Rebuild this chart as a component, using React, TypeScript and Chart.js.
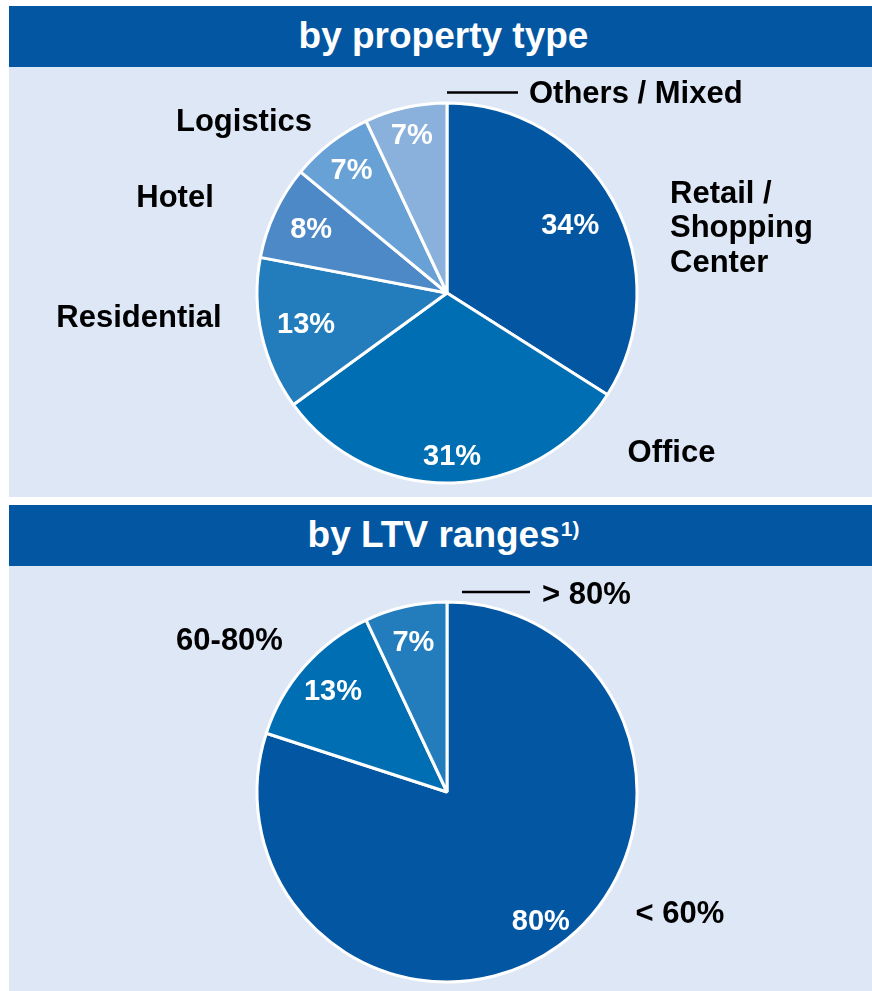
import React, { useEffect, useRef } from "react";
import { Chart, registerables } from "chart.js";

Chart.register(...registerables);

// ---------- data ----------
const propertyLabels = ["Retail / Shopping Center", "Office", "Residential", "Hotel", "Logistics", "Others / Mixed"];
const propertyValues = [34, 31, 13, 8, 7, 7];
const propertyColors = ["#0256A2", "#006EB3", "#237DBD", "#4E89C7", "#68A1D5", "#89B1DC"];

const ltvLabels = ["< 60%", "60-80%", "> 80%"];
const ltvValues = [80, 13, 7];
const ltvColors = ["#0256A2", "#006EB3", "#237DBD"];

// ---------- styling / layout ----------
const FONT = '"Liberation Sans", Arial, Helvetica, sans-serif';
const PANEL_BG = "#DEE7F6";
const HEADER_BG = "#0357A2";

// radial fraction of the radius where each percent label sits
const propertyLabelRadius = [0.74, 0.86, 0.76, 0.79, 0.82, 0.85];
const ltvLabelRadius = [0.84, 0.8, 0.81];

type OuterLabel = { lines: string[]; x: number; y: number; align: CanvasTextAlign; lineGap?: number };
type Leader = { x1: number; x2: number; y: number };

// positions in canvas coordinates
const propertyOuter: OuterLabel[] = [
  { lines: ["Retail /", "Shopping", "Center"], x: 661, y: 126, align: "left", lineGap: 34.5 },
  { lines: ["Office"], x: 662.5, y: 385, align: "center" },
  { lines: ["Residential"], x: 130, y: 250, align: "center" },
  { lines: ["Hotel"], x: 166, y: 130, align: "center" },
  { lines: ["Logistics"], x: 235, y: 54, align: "center" },
  { lines: ["Others / Mixed"], x: 520, y: 26, align: "left" },
];
const propertyLeader: Leader = { x1: 438, x2: 509, y: 25.5 };

const ltvOuter: OuterLabel[] = [
  { lines: ["< 60%"], x: 671, y: 347, align: "center" },
  { lines: ["60-80%"], x: 220.5, y: 74, align: "center" },
  { lines: ["> 80%"], x: 533, y: 28, align: "left" },
];
const ltvLeader: Leader = { x1: 453, x2: 521, y: 26 };

function makeLabelPlugin(values: number[], fractions: number[], outer: OuterLabel[], leader: Leader) {
  return {
    id: "customLabels",
    afterDatasetsDraw(chart: any) {
      const ctx: CanvasRenderingContext2D = chart.ctx;
      const meta = chart.getDatasetMeta(0);
      ctx.save();
      ctx.fillStyle = "#FFFFFF";
      ctx.font = `bold 29px ${FONT}`;
      ctx.textAlign = "center";
      ctx.textBaseline = "middle";
      meta.data.forEach((arc: any, i: number) => {
        const p = arc.getProps(["x", "y", "startAngle", "endAngle", "outerRadius"], true);
        const mid = (p.startAngle + p.endAngle) / 2;
        const r = p.outerRadius * fractions[i];
        ctx.fillText(`${values[i]}%`, p.x + Math.cos(mid) * r, p.y + Math.sin(mid) * r + 1);
      });
      ctx.fillStyle = "#000000";
      ctx.font = `bold 31px ${FONT}`;
      outer.forEach((l) => {
        ctx.textAlign = l.align;
        l.lines.forEach((t, k) => {
          ctx.fillText(t, l.x, l.y + k * (l.lineGap || 0) + 1);
        });
      });
      ctx.strokeStyle = "#000000";
      ctx.lineWidth = 2.5;
      ctx.beginPath();
      ctx.moveTo(leader.x1, leader.y);
      ctx.lineTo(leader.x2, leader.y);
      ctx.stroke();
      ctx.restore();
    },
  };
}

function PieChart(props: {
  labels: string[];
  values: number[];
  colors: string[];
  fractions: number[];
  outer: OuterLabel[];
  leader: Leader;
  width: number;
  height: number;
  padTop: number;
  padLeft: number;
}) {
  const ref = useRef<HTMLCanvasElement | null>(null);
  useEffect(() => {
    if (!ref.current) return;
    const chart = new Chart(ref.current, {
      type: "pie",
      data: {
        labels: props.labels,
        datasets: [
          {
            data: props.values,
            backgroundColor: props.colors,
            borderColor: "#FFFFFF",
            borderWidth: 3,
          },
        ],
      },
      options: {
        responsive: false,
        animation: false,
        devicePixelRatio: 1,
        radius: 190,
        layout: { padding: { top: props.padTop, left: props.padLeft, right: 0, bottom: 0 } },
        plugins: {
          legend: { display: false },
          tooltip: { enabled: false },
          title: { display: false },
        },
      } as any,
      plugins: [makeLabelPlugin(props.values, props.fractions, props.outer, props.leader)],
    });
    return () => chart.destroy();
  }, []);
  return (
    <canvas
      ref={ref}
      width={props.width}
      height={props.height}
      style={{ position: "absolute", left: 0, top: 0, width: props.width, height: props.height }}
    />
  );
}

const headerStyle: React.CSSProperties = {
  position: "absolute",
  left: 9,
  width: 863,
  height: 61,
  background: HEADER_BG,
  color: "#FFFFFF",
  fontFamily: FONT,
  fontWeight: "bold",
  fontSize: 37,
  display: "flex",
  alignItems: "center",
  justifyContent: "center",
  whiteSpace: "nowrap",
};

export default function App() {
  return (
    <div style={{ position: "absolute", left: 0, top: 0, width: 872, height: 991, background: "#FFFFFF", overflow: "hidden" }}>
      <div style={{ ...headerStyle, top: 6 }}>
        <span style={{ position: "relative", top: -1, left: 3 }}>by property type</span>
      </div>
      <div style={{ position: "absolute", left: 9, top: 67, width: 863, height: 430, background: PANEL_BG }}>
        <PieChart
          labels={propertyLabels}
          values={propertyValues}
          colors={propertyColors}
          fractions={propertyLabelRadius}
          outer={propertyOuter}
          leader={propertyLeader}
          width={863}
          height={430}
          padTop={22}
          padLeft={13}
        />
      </div>
      <div style={{ ...headerStyle, top: 505 }}>
        <span style={{ position: "relative", top: -1, left: 3 }}>
          by LTV ranges
          <span style={{ fontSize: 21, position: "relative", top: -11, marginLeft: 1 }}>1)</span>
        </span>
      </div>
      <div style={{ position: "absolute", left: 9, top: 566, width: 863, height: 425, background: PANEL_BG }}>
        <PieChart
          labels={ltvLabels}
          values={ltvValues}
          colors={ltvColors}
          fractions={ltvLabelRadius}
          outer={ltvOuter}
          leader={ltvLeader}
          width={863}
          height={425}
          padTop={27}
          padLeft={13}
        />
      </div>
    </div>
  );
}
